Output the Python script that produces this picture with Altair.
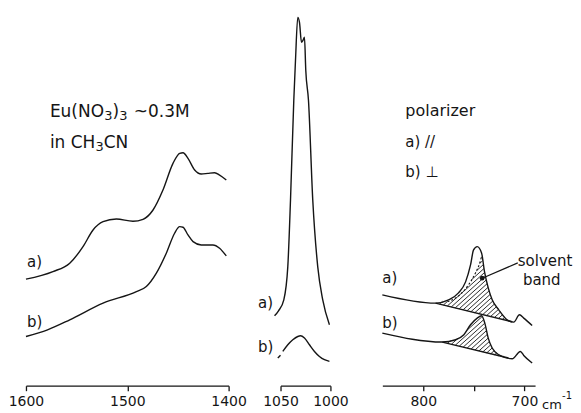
import altair as alt
import pandas as pd
import numpy as np

FONT = "DejaVu Sans"
INK = "#151515"
PX = 1.013  # px per cm-1 used for the hatch direction (panel 3)

# ---------------- Panel 1 : 1600-1400 cm-1 ----------------
p1a_wn = [1600, 1573.4, 1556.8, 1543.7, 1533.8, 1523.9, 1510.8, 1494.4, 1484.5, 1474.6,
          1464.8, 1454.9, 1448.3, 1445, 1440.1, 1433.5, 1427, 1420.4, 1413.8, 1408.9, 1402.3]
p1a_int = [106.7, 114.3, 122.7, 139.3, 156, 164.3, 167, 164.7, 166.7, 176,
           196, 222.7, 232.7, 233.3, 227.7, 216, 212, 212.7, 213.3, 211, 206]
p1b_wn = [1600, 1578.7, 1556.8, 1523.9, 1491, 1481.2, 1471.3, 1461.5, 1453.3, 1448.3,
          1445, 1440.1, 1435.1, 1427, 1415.5, 1408.9, 1402.3]
p1b_int = [49.3, 56, 66, 82.7, 94.3, 99.3, 112.7, 132.7, 152.7, 159.3,
           158.7, 151, 144.3, 141, 141, 137.7, 130]
p1_ticks = [1600, 1500, 1400]
# text pieces: text, wn, intensity, font size
p1_text = ["a)", "b)", "Eu(NO", "3", ")", "3", "~0.3M", "in CH", "3", "CN"]
p1_text_wn = [1599, 1599, 1576.4, 1522.7, 1514.5, 1508, 1493.6, 1576.4, 1531.4, 1523.3]
p1_text_int = [124, 64, 274.5, 270.5, 274.5, 270.5, 274.5, 243.5, 239.5, 243.5]
p1_text_fs = [15, 15, 17, 13, 17, 13, 17, 17, 13, 17]

# ---------------- Panel 2 : 1050-1000 cm-1 ----------------
p2a_wn = [1056, 1052, 1046.7, 1042.7, 1040, 1036.7, 1035, 1032.7, 1031, 1029, 1027.5, 1026,
          1024.7, 1022, 1017.7, 1012.7, 1007.7, 1001]
p2a_int = [70, 75, 86, 119.3, 186, 286, 326, 369, 364, 344, 346, 349,
           316, 286, 186, 119, 86, 61]
p2b0_wn = [1052.7, 1050]
p2b0_int = [27.7, 30.5]
p2b_wn = [1047.7, 1042.7, 1037.7, 1032.7, 1030, 1026, 1021, 1016, 1011, 1006, 1001]
p2b_int = [34.3, 41, 46, 49.3, 50, 47.7, 41, 34.3, 29.3, 26, 24.3]
p2_ticks = [1050, 1000]
p2_text = ["a)", "b)"]
p2_text_wn = [1072.5, 1072.5]
p2_text_int = [83, 39]
p2_text_fs = [15, 15]

# ---------------- Panel 3 : 840-690 cm-1 ----------------
p3a_wn = [840.5, 787.9, 775, 765.2, 758.2, 753.3, 750.3, 746.7, 742.4, 739.5, 735.8, 731.9,
          725.4, 717.1, 710.6, 704.9, 700.7, 692.4]
p3a_int = [91, 82.7, 86, 93, 104, 121, 136, 139.3, 133, 114.3, 98, 86,
           76, 66, 63.7, 71, 67.7, 60.3]
p3a_base_wn = [787.9, 712.1]
p3a_base_int = [82.7, 64]
p3a_dot_wn = [776, 765.1, 755.3, 748.4, 744.5, 742.5]
p3a_dot_int = [84, 90, 101, 113, 122, 129]
p3b_wn = [840.5, 781.2, 768.1, 759.9, 753.3, 746.7, 742.4, 739.2, 735.8, 731.9, 725.4,
          712.1, 704, 700.7, 692.4]
p3b_int = [52.7, 43.7, 46, 51, 61, 67.7, 70, 62.7, 47.7, 37.7, 31,
           27, 34.3, 30.3, 22.7]
p3b_base_wn = [781.2, 715.8]
p3b_base_int = [43.7, 27.7]
p3_ticks = [800, 750, 700]
p3_leader_wn = [741.8, 706.6]
p3_leader_int = [107.7, 123]
p3_text = ["a)", "b)", "solvent", "band", "polarizer", "a)  //", "b)  ⊥", "cm", "-1"]
p3_text_wn = [840.5, 840.5, 706.6, 701.5, 817.8, 817.8, 817.8, 682.6, 662.8]
p3_text_int = [108, 63, 124.5, 106, 275, 244.5, 214, -19, -10]
p3_text_fs = [15, 15, 15, 15, 16, 15, 15, 13, 10]

Y_MAX = 373


def series_df(parts):
    rows = []
    for name, wn, it in parts:
        for k, (w, i) in enumerate(zip(wn, it)):
            rows.append({"s": name, "k": k, "wn": w, "i": i})
    return pd.DataFrame(rows)


def hatch(uppers, base_wn, base_int, spacing=5.0, slope=0.9):
    g_wn = np.arange(base_wn[0], base_wn[1], -0.05)
    u = -g_wn * PX
    low = np.interp(u, -np.array(base_wn) * PX, base_int)
    up = np.full_like(u, np.inf)
    for w, i in uppers:
        w = np.asarray(w, float)
        i = np.asarray(i, float)
        order = np.argsort(-w * PX)
        uu, vv = -w[order] * PX, i[order]
        inside = (u >= uu.min()) & (u <= uu.max())
        up = np.where(inside, np.minimum(up, np.interp(u, uu, vv)), up)
    fin = np.isfinite(up)
    cmin = (low - slope * u).min()
    cmax = (up[fin] - slope * u[fin]).max()
    segs = []
    for c in np.arange(cmin + spacing * slope * 0.5, cmax, spacing * slope):
        line = slope * u + c
        m = fin & (line >= low) & (line <= up)
        idx = np.flatnonzero(m)
        if len(idx) == 0:
            continue
        br = np.flatnonzero(np.diff(idx) > 1)
        starts = np.r_[idx[0], idx[br + 1]]
        ends = np.r_[idx[br], idx[-1]]
        for s, e in zip(starts, ends):
            if e - s < 4:
                continue
            segs.append({"wn": g_wn[s], "i": line[s], "wn2": g_wn[e], "i2": line[e]})
    return pd.DataFrame(segs)


def yenc():
    return alt.Y("i:Q", scale=alt.Scale(domain=[0, Y_MAX], nice=False, zero=False), axis=None)


def xenc(domain, ticks, label_expr=None):
    ax = dict(values=ticks, format="d", tickSize=5, tickWidth=1.3, tickColor=INK,
              domainColor=INK, domainWidth=1.3, labelFont=FONT, labelFontSize=14,
              labelColor=INK, labelPadding=4, labelFlush=False, labelOverlap=False,
              grid=False, title=None)
    if label_expr:
        ax["labelExpr"] = label_expr
    return alt.X("wn:Q", scale=alt.Scale(domain=domain, reverse=True, nice=False, zero=False),
                 axis=alt.Axis(**ax))


def lines(df, domain, ticks, label_expr=None, width=1.4):
    return alt.Chart(df).mark_line(color=INK, strokeWidth=width, interpolate="monotone").encode(
        x=xenc(domain, ticks, label_expr), y=yenc(), detail="s:N", order="k:Q")


def texts(labels, wn, it, fs):
    df = pd.DataFrame({"t": labels, "wn": wn, "i": it, "fs": fs})
    return alt.Chart(df).mark_text(align="left", baseline="middle", font=FONT,
                                   color=INK).encode(
        x="wn:Q", y="i:Q", text="t:N", size=alt.Size("fs:Q", scale=None, legend=None))


# Panel 1
d1 = series_df([("a", p1a_wn, p1a_int), ("b", p1b_wn, p1b_int)])
panel1 = alt.layer(
    lines(d1, [1400, 1600], p1_ticks),
    texts(p1_text, p1_text_wn, p1_text_int, p1_text_fs),
).properties(width=203, height=Y_MAX)

# Panel 2
d2 = series_df([("a", p2a_wn, p2a_int), ("b0", p2b0_wn, p2b0_int), ("b", p2b_wn, p2b_int)])
panel2 = alt.layer(
    lines(d2, [1000, 1050], p2_ticks),
    texts(p2_text, p2_text_wn, p2_text_int, p2_text_fs),
).properties(width=50, height=Y_MAX)

# Panel 3
d3 = series_df([("a", p3a_wn, p3a_int), ("b", p3b_wn, p3b_int),
                ("abase", p3a_base_wn, p3a_base_int), ("bbase", p3b_base_wn, p3b_base_int)])
d3dot = series_df([("dot", p3a_dot_wn, p3a_dot_int)])
hat = pd.concat([
    hatch([(p3a_wn, p3a_int), (p3a_dot_wn, p3a_dot_int)], p3a_base_wn, p3a_base_int),
    hatch([(p3b_wn, p3b_int)], p3b_base_wn, p3b_base_int),
], ignore_index=True)
leader = pd.DataFrame({"wn": [p3_leader_wn[0]], "i": [p3_leader_int[0]],
                       "wn2": [p3_leader_wn[1]], "i2": [p3_leader_int[1]]})
blob = pd.DataFrame({"wn": [p3_leader_wn[0]], "i": [p3_leader_int[0]]})

p3_dom = [689.5, 840.5]
panel3 = alt.layer(
    lines(d3, p3_dom, p3_ticks, label_expr="datum.value == 750 ? '' : datum.label"),
    alt.Chart(hat).mark_rule(color=INK, strokeWidth=0.9).encode(
        x="wn:Q", x2="wn2:Q", y="i:Q", y2="i2:Q"),
    alt.Chart(d3dot).mark_line(color=INK, strokeWidth=1.1, strokeDash=[2, 2],
                               interpolate="monotone").encode(
        x="wn:Q", y="i:Q", detail="s:N", order="k:Q"),
    alt.Chart(leader).mark_rule(color=INK, strokeWidth=1.2).encode(
        x="wn:Q", x2="wn2:Q", y="i:Q", y2="i2:Q"),
    alt.Chart(blob).mark_point(shape="circle", filled=True, size=22, color=INK, opacity=1).encode(
        x="wn:Q", y="i:Q"),
    texts(p3_text, p3_text_wn, p3_text_int, p3_text_fs),
).properties(width=153, height=Y_MAX)

chart = alt.hconcat(panel1, panel2, panel3, spacing=52, bounds="flush").properties(
    padding={"left": 0, "top": 5, "right": 0, "bottom": 0},
    background="white",
).configure_view(strokeWidth=0).resolve_scale(x="independent")

chart.save("out.html", embed_options={"renderer": "svg", "actions": False})
